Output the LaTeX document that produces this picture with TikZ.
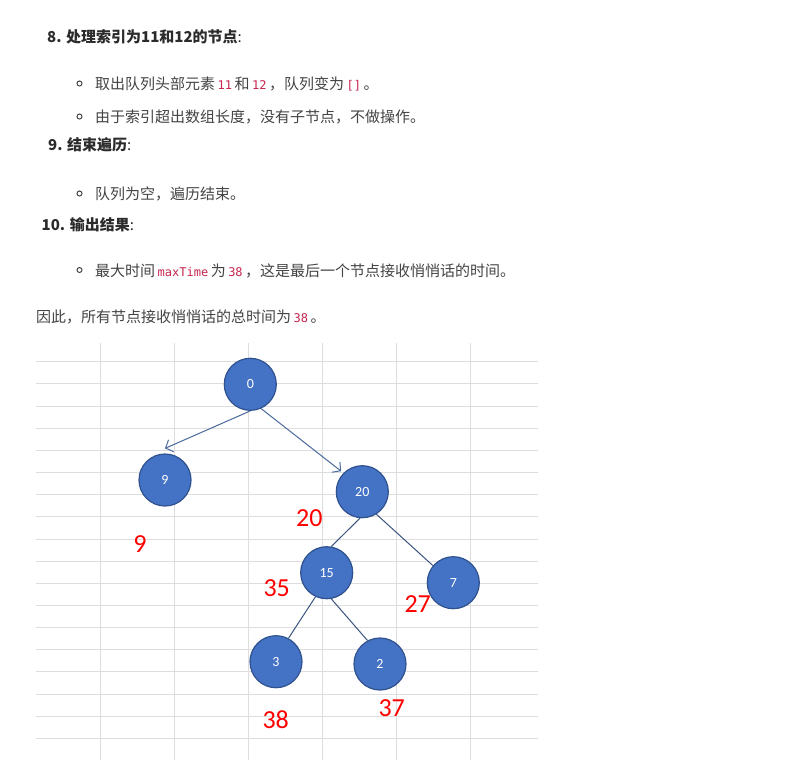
\documentclass[tikz,border=0pt]{standalone}
\usepackage{fontspec}
\usepackage{xcolor}
\usetikzlibrary{arrows.meta}
\setmainfont{Noto Sans CJK SC}
\newfontfamily\cjk{Noto Sans CJK SC}
\newfontfamily\codefont{DejaVu Sans Mono}
\newfontfamily\numfont{Carlito}
\definecolor{textgray}{HTML}{444444}
\definecolor{headgray}{HTML}{2B2B2B}
\definecolor{codered}{HTML}{C7254E}
\definecolor{nodeblue}{HTML}{4472C4}
\definecolor{nodeedge}{HTML}{2F528F}
\definecolor{edgeblue}{HTML}{4A6A9E}
\definecolor{gridgray}{HTML}{DDDDDD}
\newcommand{\code}[1]{\hspace{2.5pt}{\codefont\fontsize{12}{12}\selectfont\color{codered}#1}\hspace{2.5pt}}

\tikzset{
    heading/.style={anchor=west,inner sep=0pt,text=headgray,font=\cjk\fontsize{15}{18}\selectfont\bfseries},
    bodytext/.style={anchor=west,inner sep=0pt,text=textgray,font=\cjk\fontsize{15}{18}\selectfont},
    bulletmark/.style={circle,draw=textgray,line width=1pt,minimum size=5pt,inner sep=0pt},
    treenode/.style={circle,fill=nodeblue,draw=nodeedge,line width=1.2pt,minimum size=52pt,inner sep=0pt,text=white,font=\numfont\fontsize{14}{14}\selectfont},
    timelabel/.style={text=red,inner sep=0pt,font=\numfont\fontsize{26}{26}\selectfont},
    treearrow/.style={edgeblue,line width=1pt,-{Straight Barb[length=6pt,width=13pt]}},
    treeline/.style={edgeblue!80!black,line width=1pt},
    gridline/.style={gridgray,line width=0.8pt}
}

\begin{document}
\begin{tikzpicture}[x=1pt,y=-1pt]
    \fill[white] (0,0) rectangle (798,774);
    \useasboundingbox (0,0) rectangle (798,774);

    \node[heading] (step8) at (47,37) {8. 处理索引为11和12的节点\textmd{:}};
    \node[bulletmark] (b1) at (79.5,83.5) {};
    \node[bodytext] (t1) at (95,84) {取出队列头部元素\code{11}和\code{12}，队列变为\code{[]}。};
    \node[bulletmark] (b2) at (79.5,116.5) {};
    \node[bodytext] (t2) at (95,117) {由于索引超出数组长度，没有子节点，不做操作。};

    \node[heading] (step9) at (48,145) {9. 结束遍历\textmd{:}};
    \node[bulletmark] (b3) at (79.5,193.5) {};
    \node[bodytext] (t3) at (95,194) {队列为空，遍历结束。};

    \node[heading] (step10) at (41.5,225) {10. 输出结果\textmd{:}};
    \node[bulletmark] (b4) at (79.5,270) {};
    \node[bodytext] (t4) at (95,270.5) {最大时间\code{maxTime}为\code{38}，这是最后一个节点接收悄悄话的时间。};

    \node[bodytext] (summary) at (36,316.5) {因此，所有节点接收悄悄话的总时间为\code{38}。};

    \foreach \k in {0,...,17}
        \draw[gridline] (36,361.7+22.15*\k) -- (538,361.7+22.15*\k);
    \foreach \k in {0,...,5}
        \draw[gridline] (100.7+74*\k,343) -- (100.7+74*\k,759.5);

    \node[treenode] (n0) at (250.3,384.3) {0};
    \node[treenode] (n9) at (165,480) {9};
    \node[treenode] (n20) at (362.3,491.7) {20};
    \node[treenode] (n15) at (326.7,572.7) {15};
    \node[treenode] (n7) at (453.3,582.7) {7};
    \node[treenode] (n3) at (276,661.7) {3};
    \node[treenode] (n2) at (380,664) {2};

    \draw[treearrow] (n0.-90) -- ([yshift=5pt]n9.north);
    \draw[treearrow] (n0.-66) -- ([shift={(-2pt,2pt)}]n20.136);
    \draw[treeline] (n20.-95) -- (n15.80);
    \draw[treeline] (n20.-58) -- (n7.140);
    \draw[treeline] (n15.-115) -- (n3.62);
    \draw[treeline] (n15.-80) -- (n2.118);

    \node[timelabel] (tm20) at (309.3,517.7) {20};
    \node[timelabel] (tm9) at (140,544) {9};
    \node[timelabel] (tm35) at (276.7,588.3) {35};
    \node[timelabel] (tm27) at (417.7,604) {27};
    \node[timelabel] (tm38) at (275.7,719.3) {38};
    \node[timelabel] (tm37) at (391.7,708.3) {37};
\end{tikzpicture}
\end{document}
